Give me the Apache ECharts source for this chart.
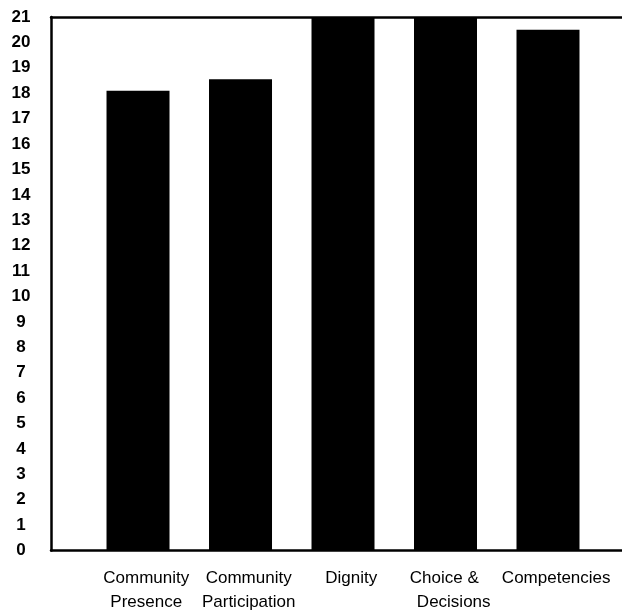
<!DOCTYPE html>
<html>
<head>
<meta charset="utf-8">
<script src="https://cdn.jsdelivr.net/npm/echarts@6/dist/echarts.min.js"></script>
<style>
html,body{margin:0;padding:0;background:#fff;}
#c{width:622px;height:612px;}
</style>
</head>
<body>
<div id="c"></div>
<script>
var categories = ['Community\nPresence', 'Community\nParticipation', 'Dignity', 'Choice &    \nDecisions', 'Competencies'];
var positions = [0, 1, 2, 3, 4];
var values = [18.1, 18.55, 21, 21, 20.5];
var yTicks = [0, 21, 1];

var chart = echarts.init(document.getElementById('c'), null, {renderer: 'canvas'});
var xMin = -0.849, xMax = 4.722;
var labelShift = 0.08;
var seriesData = positions.map(function (p, i) { return [p, values[i]]; });

chart.setOption({
  animation: false,
  backgroundColor: '#fff',
  grid: {left: 51, right: 0, top: 17, bottom: 61.5, containLabel: false, outerBoundsMode: 'none'},
  xAxis: [{
    type: 'value', min: xMin, max: xMax,
    axisLine: {show: true, onZero: false, lineStyle: {color: '#000', width: 2.5}},
    axisTick: {show: false},
    splitLine: {show: false},
    axisLabel: {
      show: true,
      customValues: positions.map(function (p) { return p + labelShift; }),
      hideOverlap: false,
      formatter: function (v) { return categories[Math.round(v)]; },
      color: '#000', fontSize: 17, fontFamily: 'Liberation Sans, Arial, sans-serif',
      lineHeight: 24, margin: 16,
      showMinLabel: true, showMaxLabel: true
    }
  }, {
    type: 'value', position: 'top', min: xMin, max: xMax,
    axisLine: {show: true, onZero: false, lineStyle: {color: '#000', width: 2.5}},
    axisTick: {show: false}, splitLine: {show: false}, axisLabel: {show: false}
  }],
  yAxis: {
    type: 'value', min: yTicks[0], max: yTicks[1], interval: yTicks[2],
    axisLine: {show: true, onZero: false, lineStyle: {color: '#000', width: 2.5}},
    axisTick: {show: false},
    splitLine: {show: false},
    axisLabel: {
      color: '#000', fontSize: 17, fontWeight: 'bold',
      fontFamily: 'Liberation Sans, Arial, sans-serif',
      align: 'center', margin: 30
    }
  },
  series: [{
    type: 'bar', xAxisIndex: 0, data: seriesData, barWidth: 63,
    itemStyle: {color: '#000'}
  }]
});
</script>
</body>
</html>
